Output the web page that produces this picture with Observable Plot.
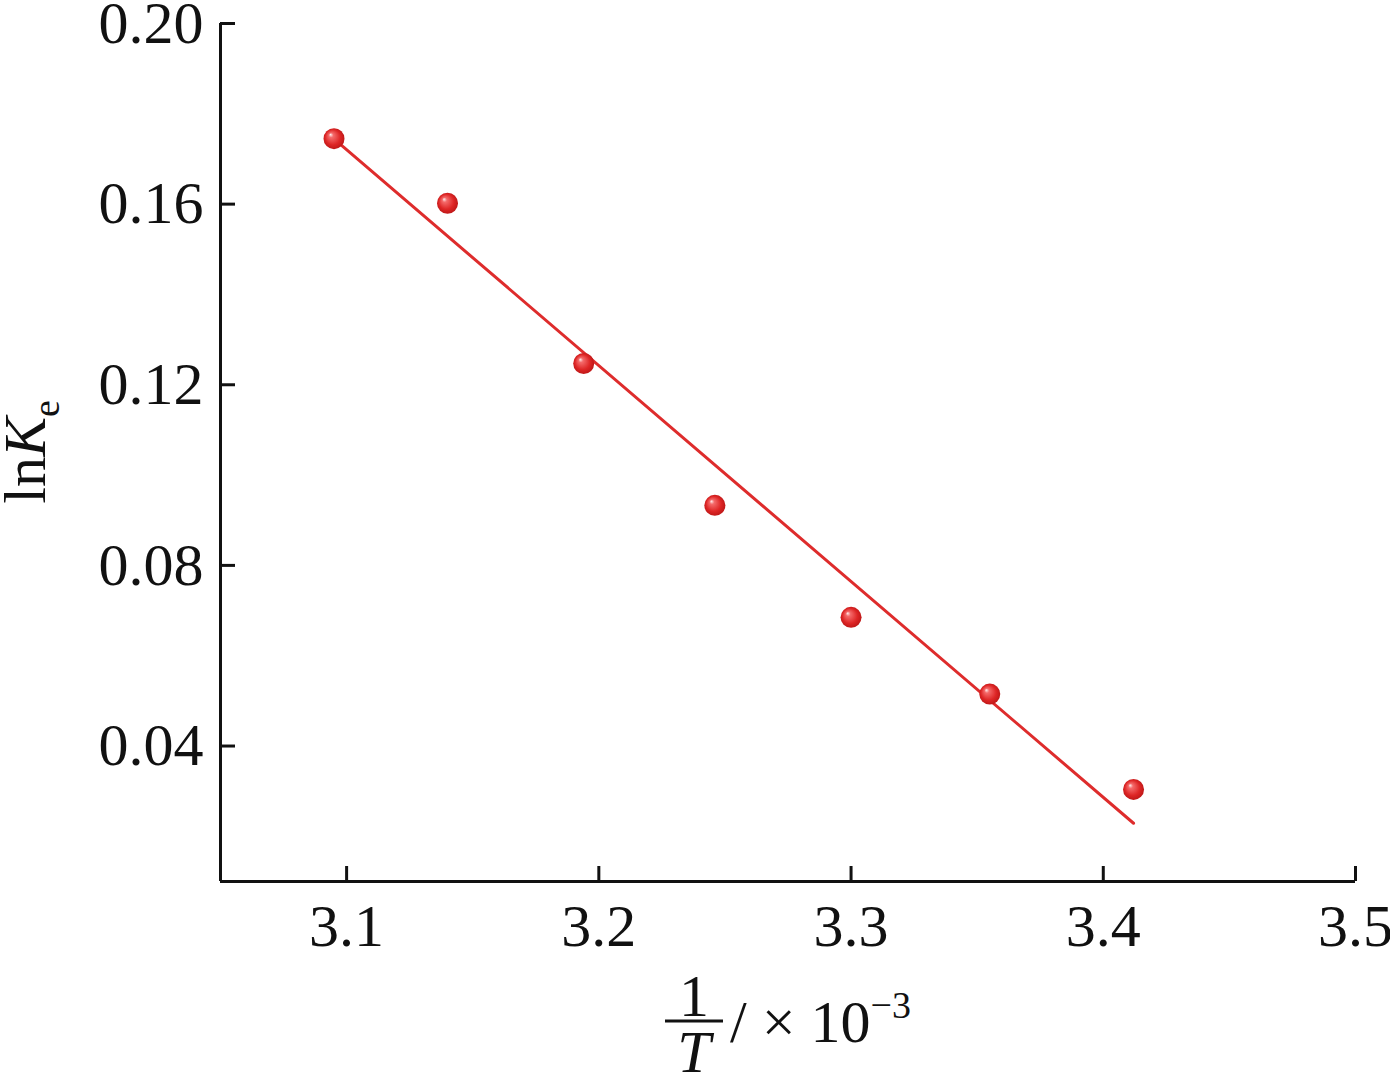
<!DOCTYPE html>
<html>
<head>
<meta charset="utf-8">
<script src="https://cdn.jsdelivr.net/npm/d3@7"></script>
<script src="https://cdn.jsdelivr.net/npm/@observablehq/plot@0.6"></script>
<style>
  html, body { margin: 0; padding: 0; background: #fff; }
  #chart { width: 1390px; height: 1076px; }
</style>
</head>
<body>
<div id="chart"></div>
<script>
// Data
const invT = [3.095, 3.140, 3.194, 3.246, 3.300, 3.355, 3.412];   // 1/T (×10^-3)
const lnKe = [0.1745, 0.1602, 0.1247, 0.0933, 0.0685, 0.0515, 0.0304];
const fitInvT = [3.098, 3.412];
const fitLnKe = [0.1730, 0.0229];
const xTicks = [3.1, 3.2, 3.3, 3.4, 3.5];
const yTicks = [0.04, 0.08, 0.12, 0.16, 0.20];
const xDomain = [3.05, 3.5];
const yDomain = [0.01, 0.20];

const points = invT.map((x, i) => ({x, y: lnKe[i]}));
const fit = fitInvT.map((x, i) => ({x, y: fitLnKe[i]}));

const ink = "#111";
const red = "#de2c2c";
const serif = "'Liberation Serif', 'Times New Roman', serif";

const plot = Plot.plot({
  width: 1390,
  height: 1076,
  marginLeft: 220,
  marginTop: 23,
  marginRight: 35,
  marginBottom: 195,
  style: {fontFamily: serif, fontSize: "60px", color: ink, background: "#fff"},
  x: {domain: xDomain},
  y: {domain: yDomain},
  marks: [
    Plot.axisX({ticks: xTicks, tickFormat: d => d.toFixed(1), tickSize: -15, tickPadding: 37, strokeWidth: 3, label: null}),
    Plot.axisY({ticks: yTicks, tickFormat: d => d.toFixed(2), tickSize: -15, tickPadding: 32, strokeWidth: 3, label: null}),
    Plot.ruleX([xDomain[0]], {stroke: ink, strokeWidth: 3}),
    Plot.ruleY([yDomain[0]], {stroke: ink, strokeWidth: 3}),
    Plot.line(fit, {x: "x", y: "y", stroke: red, strokeWidth: 3}),
    Plot.dot(points, {x: "x", y: "y", r: 10.5, fill: "url(#ballGrad)", stroke: "none"})
  ]
});

document.getElementById("chart").appendChild(plot);

const svg = d3.select(plot);
const defs = svg.insert("defs", ":first-child");
const g = defs.append("radialGradient").attr("id", "ballGrad")
  .attr("cx", "0.5").attr("cy", "0.5").attr("r", "0.55")
  .attr("fx", "0.33").attr("fy", "0.3");
g.append("stop").attr("offset", "0").attr("stop-color", "#fff0f0");
g.append("stop").attr("offset", "0.2").attr("stop-color", "#f46a6a");
g.append("stop").attr("offset", "0.65").attr("stop-color", "#de2626");
g.append("stop").attr("offset", "1").attr("stop-color", "#b81414");

// y-axis title: ln K_e (rotated)
const yt = svg.append("text")
  .attr("transform", "translate(45,452) rotate(-90)")
  .attr("text-anchor", "middle")
  .attr("font-family", serif)
  .attr("font-size", 60)
  .attr("fill", ink);
yt.append("tspan").text("ln");
yt.append("tspan").attr("font-style", "italic").text("K");
yt.append("tspan").attr("font-size", 38).attr("dy", 14).text("e");

// x-axis title: 1/T / × 10^-3
const xt = svg.append("g").attr("font-family", serif).attr("fill", ink);
xt.append("text").attr("x", 694).attr("y", 1016).attr("text-anchor", "middle")
  .attr("font-size", 60).text("1");
xt.append("line").attr("x1", 665).attr("x2", 723).attr("y1", 1021).attr("y2", 1021)
  .attr("stroke", ink).attr("stroke-width", 3);
xt.append("text").attr("x", 694).attr("y", 1072).attr("text-anchor", "middle")
  .attr("font-size", 60).attr("font-style", "italic").text("T");
const rest = xt.append("text").attr("x", 730).attr("y", 1042)
  .attr("text-anchor", "start").attr("font-size", 60);
rest.append("tspan").text("/ × 10");
rest.append("tspan").attr("font-size", 38).attr("dy", -24).text("−3");
</script>
</body>
</html>
